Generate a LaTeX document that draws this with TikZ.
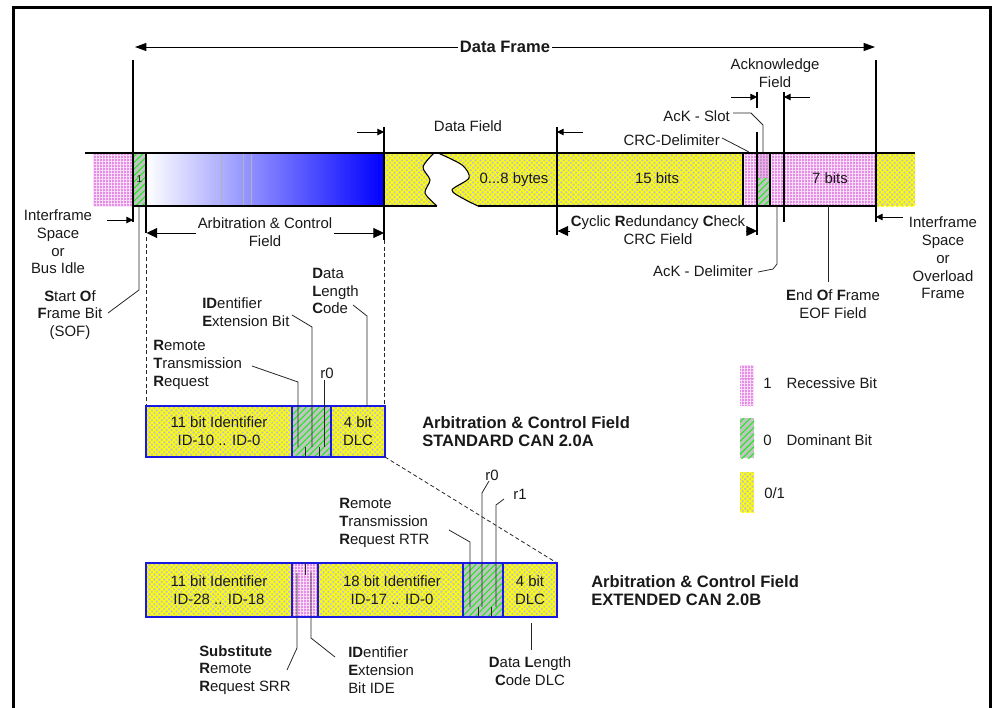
\documentclass[tikz,border=0pt]{standalone}
\usepackage{fontspec}
\setmainfont{Liberation Sans}
\usetikzlibrary{arrows.meta,patterns.meta}

\definecolor{txt}{RGB}{25,25,25}
\definecolor{pinkbase}{RGB}{230,140,230}
\definecolor{slotbase}{RGB}{200,140,200}
\definecolor{yelbase}{RGB}{195,195,195}
\definecolor{grnbase}{RGB}{195,195,195}
\definecolor{hatchgreen}{RGB}{30,235,30}
\definecolor{canblue}{RGB}{25,25,225}

\tikzset{
  lbl/.style={font=\fontsize{11.2}{13.3}\selectfont, text=txt, inner sep=0pt},
  ttl/.style={font=\fontsize{12.4}{13.8}\selectfont\bfseries, text=txt, inner sep=0pt, align=left},
  recessive/.style={fill=pinkbase,
    postaction={pattern={Lines[angle=0,distance=2.25pt,line width=0.4pt]}, pattern color=white!75!pinkbase},
    postaction={pattern={Lines[angle=90,distance=2.25pt,line width=0.4pt]}, pattern color=white!75!pinkbase}},
  slottop/.style={fill=slotbase,
    postaction={pattern={Lines[angle=0,distance=2.25pt,line width=0.4pt]}, pattern color=pinkbase!70!white},
    postaction={pattern={Lines[angle=90,distance=2.25pt,line width=0.4pt]}, pattern color=pinkbase!70!white}},
  dominant/.style={fill=grnbase,
    postaction={pattern={Lines[angle=45,distance=3.4pt,line width=0.8pt]}, pattern color=hatchgreen}},
  mixed/.style={fill=yelbase,
    postaction={pattern={Lines[angle=45,distance=2.6pt,line width=0.95pt]}, pattern color=yellow},
    postaction={pattern={Lines[angle=-45,distance=2.6pt,line width=0.95pt]}, pattern color=yellow}},
  cellline/.style={line width=0.8pt, black},
  conn/.style={line width=0.6pt, black!85},
  framearrow/.style={line width=0.7pt, {Triangle[length=8.5pt,width=6pt]}-{Triangle[length=8.5pt,width=6pt]}},
  dimarrow/.style={line width=0.7pt, {Triangle[length=8pt,width=7.5pt]}-{Triangle[length=8pt,width=7.5pt]}},
  smallarrow/.style={line width=0.7pt, -{Triangle[length=5pt,width=5pt]}},
  guide/.style={line width=0.6pt, black!85, dash pattern=on 3pt off 2pt},
  bluebox/.style={line width=1.7pt, draw=canblue},
}

\begin{document}
\begin{tikzpicture}[x=0.75pt,y=-0.75pt]
\useasboundingbox (0,0) rectangle (994,707);

% outer frame
\draw[line width=2.3pt] (13.5,760) -- (13.5,7.5) -- (990.5,7.5) -- (990.5,760);

% ---------------- bus bar: cell fills
\fill[recessive] (93,153) rectangle (133,206);
\fill[dominant] (133,153) rectangle (146,206);
\shade[left color=white, middle color=blue!38, right color=blue] (146,153) rectangle (384,206);
\draw[gray!60, line width=0.4pt] (221,153) -- (221,206) (243,153) -- (243,206) (251,153) -- (251,206);
\fill[mixed] (384,153) -- plot[smooth] coordinates {(434,153) (423,167) (430,180) (425,193) (437,206)} -- (384,206) -- cycle;
\fill[mixed] plot[smooth] coordinates {(438,153) (462,165) (469,178) (452,190) (464,199) (478,206)} -- (557,206) -- (557,153) -- cycle;
\fill[mixed] (557,153) rectangle (743,206);
\fill[recessive] (743,153) rectangle (757,206);
\fill[slottop] (757,153) rectangle (770,178);
\fill[dominant] (757,178) rectangle (770,206);
\fill[recessive] (770,153) rectangle (876,206);
\fill[mixed] (876,153) rectangle (915,206);

% ---------------- bus bar: outlines
\draw[cellline] (85,153) -- (915,153);
\draw[cellline] (133,206) -- (437,206) (478,206) -- (876,206);
\draw[cellline] plot[smooth] coordinates {(434,153) (423,167) (430,180) (425,193) (437,206)};
\draw[cellline] plot[smooth] coordinates {(438,153) (462,165) (469,178) (452,190) (464,199) (478,206)};
\draw[cellline] (133,60) -- (133,222);
\draw[cellline] (146,153) -- (146,233);
\draw[cellline] (384,127) -- (384,240);
\draw[cellline] (557,127) -- (557,235);
\draw[cellline] (743,153) -- (743,206);
\draw[cellline] (757,92) -- (757,108) (757,132) -- (757,235);
\draw[cellline] (770,153) -- (770,206);
\draw[cellline] (784,92) -- (784,222);
\draw[cellline] (876,60) -- (876,222);

\node[lbl, font=\fontsize{7.5}{8}\selectfont] (sofbit) at (139.5,179) {1};
\node[lbl] (bytes) at (514,180) {0...8 bytes};
\node[lbl] (crcbits) at (657,178) {15 bits};
\node[lbl] (eofbits) at (830,178) {7 bits};

% ---------------- data frame dimension
\draw[framearrow] (135,47) -- (875,47);
\node[ttl, fill=white, inner xsep=1.5pt] (dframe) at (505,47) {Data Frame};

% interframe space, left
\coordinate (ifsL) at (107,220);
\draw[smallarrow] (ifsL) -- (133,220);
\node[lbl, align=center] (ifsleft) at (58,242) {Interframe\\Space\\or\\Bus Idle};

% start of frame
\coordinate (sofend) at (108,313);
\draw[conn] (139,206) -- (139,290) -- (sofend);
\node[lbl, align=center] (sof) at (70,315) {\textbf{S}tart \textbf{O}f\\\textbf{F}rame Bit\\(SOF)};

% arbitration & control field dimension
\draw[dimarrow] (146.5,233) -- (384,233);
\node[lbl, align=center, fill=white, inner xsep=1pt] (arbctl) at (265,232) {Arbitration \& Control\\Field};
\draw[guide] (146,237) -- (146,406);
\draw[guide] (384,240) -- (384,406);

% data field markers
\draw[smallarrow] (357,132) -- (384,132);
\draw[smallarrow] (583,132) -- (557,132);
\node[lbl] (dfield) at (468,126) {Data Field};

% CRC field dimension
\draw[dimarrow] (557.5,231) -- (757,231);
\node[lbl, align=center, fill=white, inner xsep=0.5pt] (crcf) at (658,230.5) {\textbf{C}yclic \textbf{R}edundancy \textbf{C}heck\\CRC Field};

% acknowledge field
\draw[smallarrow] (731,97) -- (757,97);
\draw[smallarrow] (810,97) -- (784,97);
\node[lbl, align=center] (ackf) at (775,73.5) {Acknowledge\\Field};
\node[lbl, anchor=east] (ackslot) at (730,116) {AcK - Slot};
\draw[conn] (733,113) -- (751,113) -- (763,125) -- (763,152);
\node[lbl, anchor=east] (crcdel) at (720,140) {CRC-Delimiter};
\draw[conn] (722,138) -- (749,152);
\node[lbl, anchor=east] (ackdel) at (753,271) {AcK - Delimiter};
\draw[conn] (758,272) -- (773,269) -- (777,264) -- (777,206);

% end of frame
\draw[conn] (828,206) -- (828,282);
\node[lbl, align=center] (eof) at (833,304) {\textbf{E}nd \textbf{O}f \textbf{F}rame\\EOF Field};

% interframe space, right
\draw[smallarrow] (903,217) -- (876,217);
\node[lbl, align=center] (ifsright) at (943,258) {Interframe\\Space\\or\\Overload\\Frame};

% ---------------- standard CAN 2.0A
\fill[mixed] (146,406) rectangle (292,457);
\fill[dominant] (292,406) rectangle (331,457);
\fill[mixed] (331,406) rectangle (385,457);
\draw[bluebox] (146,406) rectangle (385,457);
\draw[bluebox] (292,406) -- (292,457) (331,406) -- (331,457);
\draw[conn] (305,447) -- (305,457) (319,447) -- (319,457);
\node[lbl, align=center] (sid) at (219,431) {11 bit Identifier\\ID-10 .. ID-0};
\node[lbl, align=center] (sdlc) at (358,431) {4 bit\\DLC};

\node[lbl, anchor=west, align=left] (srtr) at (153,365) {\textbf{R}emote\\\textbf{T}ransmission\\\textbf{R}equest};
\draw[conn] (252,366) -- (298,382) -- (298,447);
\node[lbl, anchor=west, align=left] (side) at (202,312) {\textbf{ID}entifier\\\textbf{E}xtension Bit};
\draw[conn] (292,315) -- (312,327) -- (312,447);
\node[lbl] (sr0) at (327,373) {r0};
\draw[conn] (324,380) -- (324,447);
\node[lbl, anchor=west, align=left] (sdlcl) at (312,291) {\textbf{D}ata\\\textbf{L}ength\\\textbf{C}ode};
\draw[conn] (353,305) -- (367,316) -- (367,406);

\node[ttl, anchor=west] (stdttl) at (422,431.5) {Arbitration \& Control Field\\STANDARD CAN 2.0A};

\draw[guide] (385,457) -- (557,563);

% ---------------- extended CAN 2.0B
\fill[mixed] (146,563) rectangle (292,617);
\fill[recessive] (292,563) rectangle (318,617);
\fill[mixed] (318,563) rectangle (463,617);
\fill[dominant] (463,563) rectangle (503,617);
\fill[mixed] (503,563) rectangle (557,617);
\draw[bluebox] (146,563) rectangle (557,617);
\draw[bluebox] (292,563) -- (292,617) (318,563) -- (318,617) (463,563) -- (463,617) (503,563) -- (503,617);
\draw[conn] (305,563) -- (305,575);
\draw[conn] (478,607) -- (478,617) (491,607) -- (491,617);
\node[lbl, align=center] (xid1) at (219,590.5) {11 bit Identifier\\ID-28 .. ID-18};
\node[lbl, align=center] (xid2) at (392,590.5) {18 bit Identifier\\ID-17 .. ID-0};
\node[lbl, align=center] (xdlc) at (530,590.5) {4 bit\\DLC};

\node[lbl, anchor=west, align=left] (xrtr) at (339,523) {\textbf{R}emote\\\textbf{T}ransmission\\\textbf{R}equest RTR};
\draw[conn] (449,530) -- (470,542) -- (470,607);
\node[lbl] (xr0) at (492,475) {r0};
\draw[conn] (489,481) -- (482,493) -- (482,607);
\node[lbl] (xr1) at (520,494) {r1};
\draw[conn] (504,499) -- (496,505) -- (496,607);

\node[lbl, anchor=west, align=left] (xsrr) at (199,670) {\textbf{Substitute}\\\textbf{R}emote\\\textbf{R}equest SRR};
\draw[conn] (297,573) -- (297,648) -- (287,670);
\node[lbl, anchor=west, align=left] (xide) at (348,670) {\textbf{ID}entifier\\\textbf{E}xtension\\Bit IDE};
\draw[conn] (311,572) -- (311,638) -- (335,657);
\node[lbl, align=center] (xdlcl) at (530,671) {\textbf{D}ata \textbf{L}ength\\\textbf{C}ode DLC};
\draw[conn] (531,623) -- (531,650);

\node[ttl, anchor=west] (extttl) at (591,590.5) {Arbitration \& Control Field\\EXTENDED CAN 2.0B};

% ---------------- legend
\fill[recessive] (740,365) rectangle (754,406);
\fill[dominant] (740,418) rectangle (754,458);
\fill[mixed] (740,472) rectangle (754,512);
\node[lbl, anchor=west] (legrec) at (763,383) {1\quad Recessive Bit};
\node[lbl, anchor=west] (legdom) at (763,440) {0\quad Dominant Bit};
\node[lbl, anchor=west] (legmix) at (764,493) {0/1};
\end{tikzpicture}
\end{document}
